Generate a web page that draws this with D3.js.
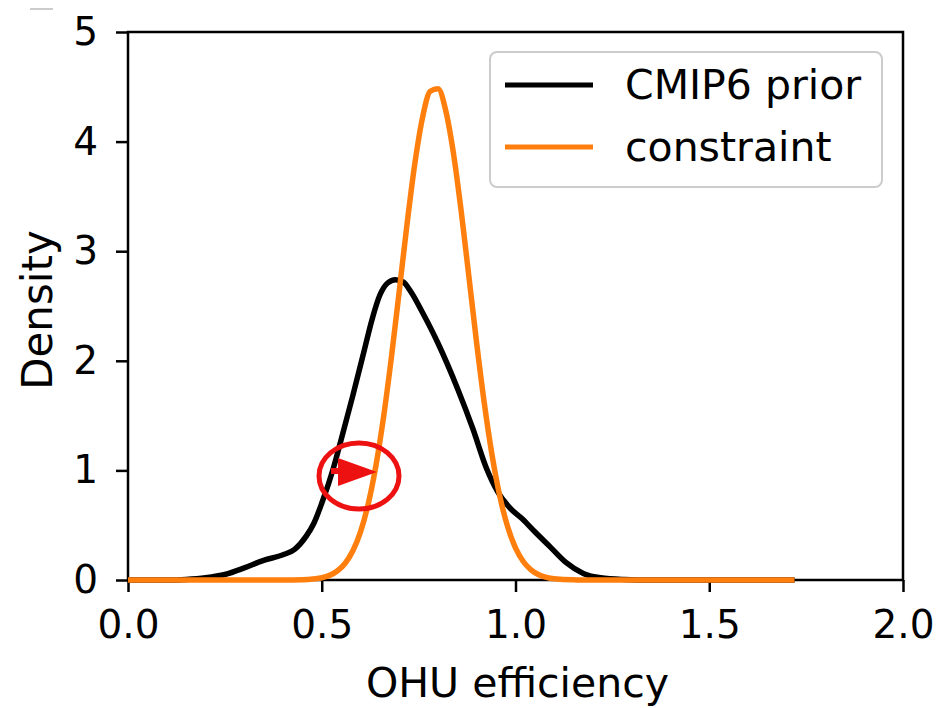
<!DOCTYPE html>
<html><head><meta charset="utf-8">
<script src="https://cdn.jsdelivr.net/npm/d3@7"></script>
<style>
html,body{margin:0;padding:0;background:#fff;}
svg{display:block;font-family:"DejaVu Sans",sans-serif;}
</style></head>
<body>
<svg id="chart" width="946" height="708"></svg>
<script>
// ---- data ----
const priorX = [0.00,0.10,0.15,0.20,0.25,0.30,0.35,0.40,0.43,0.46,0.48,0.50,0.53,0.55,0.58,0.61,0.63,0.65,0.67,0.69,0.71,0.73,0.76,0.80,0.85,0.89,0.925,0.955,0.985,1.02,1.05,1.09,1.13,1.175,1.22,1.28,1.35,1.72];
const priorY = [0.00,0.00,0.005,0.02,0.05,0.11,0.18,0.23,0.28,0.40,0.52,0.70,1.02,1.28,1.68,2.10,2.38,2.60,2.71,2.74,2.72,2.63,2.44,2.16,1.75,1.38,1.02,0.80,0.66,0.55,0.44,0.30,0.16,0.06,0.02,0.005,0.0,0.0];
const constraintX = [0.00,0.40,0.45,0.50,0.52,0.54,0.56,0.58,0.60,0.62,0.64,0.66,0.68,0.70,0.72,0.74,0.76,0.78,0.80,0.82,0.84,0.86,0.88,0.90,0.92,0.94,0.96,0.98,1.00,1.02,1.04,1.06,1.08,1.10,1.15,1.20,1.72];
const constraintY = [0.00,0.0003,0.003,0.021,0.042,0.082,0.151,0.264,0.439,0.695,1.047,1.499,2.039,2.637,3.244,3.794,4.218,4.459,4.482,4.283,3.891,3.361,2.760,2.155,1.600,1.129,0.757,0.483,0.293,0.169,0.093,0.048,0.024,0.011,0.0014,0.0,0.0];
const xTicks = [0.0,0.5,1.0,1.5,2.0];
const yTicks = [0,1,2,3,4,5];
const seriesNames = ["CMIP6 prior","constraint"];
const seriesColors = ["#000000","#ff7f0e"];

// ---- layout ----
const svg = d3.select("#chart");
const L = 128, R = 903, T = 32, B = 580;
const x = d3.scaleLinear().domain([0,2]).range([L,R]);
const y = d3.scaleLinear().domain([0,5]).range([B,T]);

// faint artifact top-left
svg.append("line").attr("x1",30).attr("x2",53).attr("y1",9).attr("y2",9)
  .attr("stroke","#bbb").attr("stroke-width",1.5);

const line = d3.line().x(d=>x(d[0])).y(d=>y(d[1])).curve(d3.curveMonotoneX);
const series = [
  d3.zip(priorX, priorY),
  d3.zip(constraintX, constraintY)
];

// axes
const xAxis = svg.append("g").attr("transform",`translate(0,${B})`)
  .call(d3.axisBottom(x).tickValues(xTicks).tickFormat(d3.format(".1f")).tickSize(12).tickPadding(18));
const yAxis = svg.append("g").attr("transform",`translate(${L},0)`)
  .call(d3.axisLeft(y).tickValues(yTicks).tickFormat(d3.format("d")).tickSize(12).tickPadding(18));
[xAxis,yAxis].forEach(g=>{
  g.select(".domain").remove();
  g.selectAll(".tick line").attr("stroke","#000").attr("stroke-width",2.5);
  g.selectAll(".tick text").attr("fill","#000").style("font-size","39px").style("font-family","DejaVu Sans");
});
// frame
svg.append("rect").attr("x",L).attr("y",T).attr("width",R-L).attr("height",B-T)
  .attr("fill","none").attr("stroke","#000").attr("stroke-width",2.5);

// curves
series.forEach((s,i)=>{
  svg.append("path").datum(s).attr("d",line).attr("fill","none")
    .attr("stroke",seriesColors[i]).attr("stroke-width",5.5).attr("stroke-linejoin","round");
});

// axis labels
svg.append("text").attr("x",(L+R)/2+2).attr("y",697).attr("text-anchor","middle")
  .style("font-size","41px").text("OHU efficiency");
svg.append("text").attr("transform",`translate(52,310) rotate(-90)`).attr("text-anchor","middle")
  .style("font-size","42px").text("Density");

// legend
const lg = svg.append("g");
lg.append("rect").attr("x",490).attr("y",52).attr("width",392).attr("height",135).attr("rx",7)
  .attr("fill","#fff").attr("fill-opacity",0.8).attr("stroke","#ccc").attr("stroke-width",2);
seriesNames.forEach((n,i)=>{
  const yy = 85 + i*62;
  lg.append("line").attr("x1",505).attr("x2",593).attr("y1",yy).attr("y2",yy)
    .attr("stroke",seriesColors[i]).attr("stroke-width",5);
  lg.append("text").attr("x",625).attr("y",yy+14).style("font-size","41px").attr("fill","#000").text(n);
});

// red annotation: ellipse + arrow
svg.append("ellipse").attr("cx",359).attr("cy",476).attr("rx",40).attr("ry",33)
  .attr("fill","none").attr("stroke","#ee1111").attr("stroke-width",5);
svg.append("rect").attr("x",331).attr("y",468).attr("width",8).attr("height",6).attr("fill","#ee1111");
svg.append("path").attr("d","M338,458 L377,472 L338,486 Z").attr("fill","#ee1111");
</script>
</body></html>
